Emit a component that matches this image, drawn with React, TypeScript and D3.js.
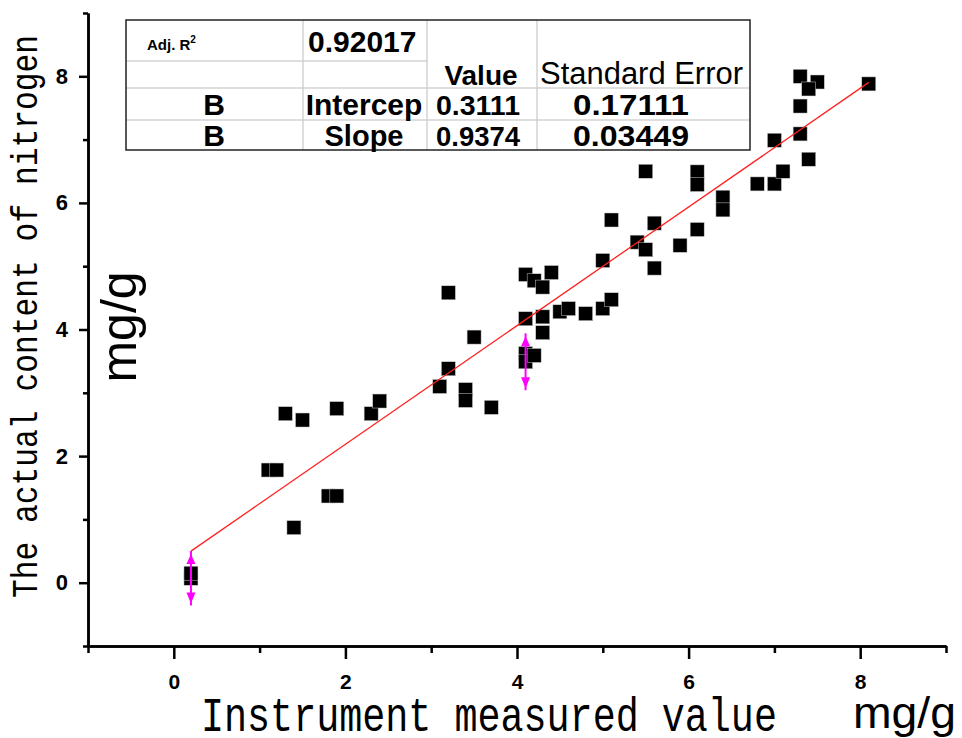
import { useEffect, useRef } from 'react'
import * as d3 from 'd3'

// instrument reading (x) vs. actual nitrogen content (y), mg/g
const measured = [0.2, 0.2, 1.1, 1.2, 1.3, 1.4, 1.5, 1.8, 1.9, 1.9, 2.3, 2.4, 3.1, 3.2, 3.2, 3.4, 3.4, 3.5, 3.7, 4.1, 4.1, 4.2, 4.1, 4.3, 4.3, 4.1, 4.2, 4.3, 4.4, 4.5, 4.6, 4.8, 5.0, 5.1, 5.0, 5.1, 5.4, 5.5, 5.6, 5.6, 5.9, 5.5, 6.1, 6.1, 6.1, 6.4, 6.4, 6.8, 7.0, 7.1, 7.0, 7.3, 7.4, 7.3, 7.3, 7.5, 7.4, 8.1]
const actual = [0.07, 0.15, 1.78, 1.78, 2.67, 0.87, 2.57, 1.37, 1.37, 2.75, 2.67, 2.87, 3.1, 3.38, 4.58, 3.05, 2.88, 3.88, 2.77, 3.62, 3.49, 3.59, 4.17, 4.2, 3.95, 4.87, 4.77, 4.67, 4.9, 4.28, 4.33, 4.25, 4.33, 4.47, 5.09, 5.73, 5.38, 5.26, 4.97, 5.68, 5.33, 6.5, 6.49, 6.29, 5.58, 6.09, 5.89, 6.3, 6.3, 6.5, 6.99, 7.09, 6.69, 7.53, 8.0, 7.91, 7.8, 7.88]

// error bars (magenta)
const errX = [0.2, 4.1]
const errY = [0.07, 3.49]
const errSize = [0.43, 0.45]

// linear fit
const intercept = 0.3111
const slope = 0.9374

const majorTicks = [0, 2, 4, 6, 8]
const minorTicks = [-1, 1, 3, 5, 7, 9]

// fit table
const adjR2 = '0.92017'
const rowLabels = ['Intercep', 'Slope']
const rowValues = ['0.3111', '0.9374']
const rowErrors = ['0.17111', '0.03449']

const W = 962
const H = 738

export default function App() {
  const xAxisRef = useRef<SVGGElement>(null)
  const yAxisRef = useRef<SVGGElement>(null)

  const x = d3.scaleLinear().domain([-1, 9]).range([88, 946])
  const y = d3.scaleLinear().domain([-1, 9]).range([646, 13])

  useEffect(() => {
    const gx = d3.select(xAxisRef.current)
    gx.selectAll('*').remove()
    gx.append('g')
      .call(d3.axisBottom(x).tickValues(minorTicks).tickSize(7).tickSizeOuter(0).tickFormat(() => ''))
    gx.append('g')
      .call(d3.axisBottom(x).tickValues(majorTicks).tickSize(13).tickSizeOuter(0).tickPadding(15).tickFormat(d3.format('d')))
    gx.selectAll('path').attr('stroke-width', 2.5).attr('stroke', '#000')
    gx.selectAll('line').attr('stroke-width', 2.5).attr('stroke', '#000')
    gx.selectAll('text')
      .attr('font-size', 21).attr('font-weight', 'bold')
      .attr('font-family', 'Liberation Sans, Arial, sans-serif').attr('fill', '#000')

    const gy = d3.select(yAxisRef.current)
    gy.selectAll('*').remove()
    gy.append('g')
      .call(d3.axisLeft(y).tickValues(minorTicks).tickSize(5).tickSizeOuter(0).tickFormat(() => ''))
    gy.append('g')
      .call(d3.axisLeft(y).tickValues(majorTicks).tickSize(9).tickSizeOuter(0).tickPadding(11).tickFormat(d3.format('d')))
    gy.selectAll('path').attr('stroke-width', 2.5).attr('stroke', '#000')
    gy.selectAll('line').attr('stroke-width', 2.5).attr('stroke', '#000')
    gy.selectAll('text')
      .attr('font-size', 22).attr('font-weight', 'bold')
      .attr('font-family', 'Liberation Sans, Arial, sans-serif').attr('fill', '#000')
  }, [])

  const fitX = d3.extent(measured) as [number, number]
  const fitLine = d3.line<number>()
    .x((d) => x(d))
    .y((d) => y(intercept + slope * d))(fitX)

  const sq = 14
  const tableFont = 'Liberation Sans, Arial, sans-serif'

  // table geometry
  const tx = [126, 303, 427, 537, 750]
  const ty = [20, 61, 88, 120, 150]

  return (
    <svg width={W} height={H} style={{ position: 'absolute', left: 0, top: 0, background: '#fff' }}>
      <rect width={W} height={H} fill="#fff" />

      {/* axes */}
      <g ref={xAxisRef} transform={`translate(0,${y(-1)})`} />
      <g ref={yAxisRef} transform={`translate(${x(-1)},0)`} />

      {/* points */}
      <g>
        {measured.map((m, i) => (
          <rect key={i} x={x(m) - sq / 2} y={y(actual[i]) - sq / 2} width={sq} height={sq}
            fill="#000" stroke="#ccc" strokeWidth={0.5} />
        ))}
      </g>

      {/* fit line */}
      <path d={fitLine ?? ''} fill="none" stroke="#ff2020" strokeWidth={1.3} />

      {/* error bars */}
      {errX.map((ex, i) => {
        const cx = x(ex)
        const top = y(errY[i] + errSize[i])
        const bot = y(errY[i] - errSize[i])
        return (
          <g key={i} fill="#ff00ff" stroke="#ff00ff">
            <line x1={cx} x2={cx} y1={top} y2={bot} strokeWidth={2} />
            <path d={`M${cx},${top + 3} L${cx - 4.5},${top + 13} L${cx + 4.5},${top + 13} Z`} stroke="none" />
            <path d={`M${cx},${bot - 2} L${cx - 4.5},${bot - 13} L${cx + 4.5},${bot - 13} Z`} stroke="none" />
          </g>
        )
      })}

      {/* fit table */}
      <g fontFamily={tableFont} fill="#000">
        <rect x={tx[0]} y={ty[0]} width={tx[4] - tx[0]} height={ty[4] - ty[0]} fill="#fff" stroke="none" />
        <line x1={tx[0]} x2={tx[2]} y1={ty[1]} y2={ty[1]} stroke="#bdbdbd" strokeWidth={1.2} />
        <line x1={tx[0]} x2={tx[4]} y1={ty[2]} y2={ty[2]} stroke="#bdbdbd" strokeWidth={1.2} />
        <line x1={tx[0]} x2={tx[4]} y1={ty[3]} y2={ty[3]} stroke="#bdbdbd" strokeWidth={1.2} />
        {[1, 2, 3].map((c) => (
          <line key={c} x1={tx[c]} x2={tx[c]} y1={ty[0]} y2={ty[4]} stroke="#c8c8c8" strokeWidth={1.2} />
        ))}
        <rect x={tx[0]} y={ty[0]} width={tx[4] - tx[0]} height={ty[4] - ty[0]} fill="none" stroke="#222" strokeWidth={1.5} />

        <text x={147} y={50} fontSize={15} fontWeight="bold">
          Adj. R<tspan dy={-7} fontSize={10}>2</tspan>
        </text>
        <text x={308} y={52} fontSize={30} fontWeight="bold">{adjR2}</text>
        <text x={481} y={85} fontSize={28} fontWeight="bold" textAnchor="middle">Value</text>
        <text x={540} y={84} fontSize={31} textLength={203} lengthAdjust="spacingAndGlyphs">Standard Error</text>

        {rowLabels.map((lab, i) => {
          const base = i === 0 ? 115 : 146
          return (
            <g key={lab}>
              <text x={214} y={base} fontSize={30} fontWeight="bold" textAnchor="middle">B</text>
              <text x={(tx[1] + tx[2]) / 2 - 1} y={base} fontSize={i === 0 ? 30 : 29} fontWeight="bold" textAnchor="middle">{lab}</text>
              <text x={478} y={base} fontSize={28} fontWeight="bold" textAnchor="middle"
                textLength={84} lengthAdjust="spacingAndGlyphs">{rowValues[i]}</text>
              <text x={631} y={base} fontSize={30} fontWeight="bold" textAnchor="middle"
                textLength={116} lengthAdjust="spacingAndGlyphs">{rowErrors[i]}</text>
            </g>
          )
        })}
      </g>

      {/* axis titles (monospace, stretched vertically) */}
      <text transform="translate(201,731) scale(1,1.25)" fontFamily="Liberation Mono, Courier New, monospace"
        fontSize={38.4} fill="#000">Instrument measured value</text>
      <text transform={`translate(37,${(35 + 598) / 2}) rotate(-90) scale(1,1.18)`} textAnchor="middle"
        fontFamily="Liberation Mono, Courier New, monospace" fontSize={31.3} fill="#000">The actual content of nitrogen</text>
      <text transform="translate(136,327) rotate(-90)" textAnchor="middle"
        fontFamily="Liberation Sans, Arial, sans-serif" fontSize={50} fill="#000">mg/g</text>
      <text x={853} y={728} fontFamily="Liberation Sans, Arial, sans-serif" fontSize={44}
        textLength={103} lengthAdjust="spacingAndGlyphs" fill="#000">mg/g</text>
    </svg>
  )
}
